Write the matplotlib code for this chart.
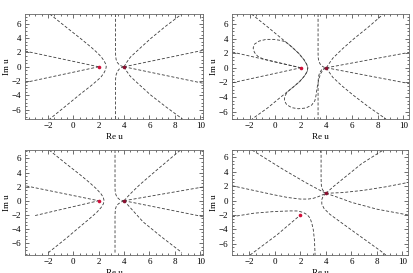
import matplotlib.pyplot as plt
from matplotlib.ticker import MultipleLocator

plt.rcParams['font.family'] = ['Liberation Serif', 'DejaVu Serif']

# curves, as (Re u, Im u) points
p1_curves = [
    [(-1.85, 7.38), (-0.6, 5.6), (0.57, 3.96), (1.4, 2.75), (1.9, 1.95), (2.2, 1.4), (2.42, 0.85),
     (2.55, 0.4), (2.6, 0.0), (2.55, -0.4), (2.42, -0.85), (2.2, -1.4), (1.9, -1.9), (1.4, -2.65),
     (0.57, -3.8), (-0.6, -5.5), (-1.85, -7.3)],
    [(-3.8, 2.2), (2, 0)],
    [(-3.8, -2.2), (2, 0)],
    [(3.33, 7.38), (3.33, 2.2), (3.34, 1.5), (3.38, 1.0), (3.47, 0.6), (3.62, 0.3), (3.8, 0.1), (4, 0)],
    [(4, 0), (3.8, -0.12), (3.62, -0.32), (3.48, -0.65), (3.38, -1.1), (3.34, -1.6), (3.33, -2.3), (3.33, -7.3)],
    [(4, 0), (4.2, 0.6), (4.5, 1.35), (5.2, 2.5), (6.1, 3.95), (7.3, 5.7), (8.55, 7.38)],
    [(4, 0), (10.22, 2.3)],
    [(4, 0), (10.22, -2.3)],
    [(4, 0), (4.2, -0.6), (4.5, -1.35), (5.2, -2.5), (6.1, -3.95), (7.3, -5.6), (8.6, -7.3)],
]
p1_red = [(2, 0)]
p1_dark = [(4, 0)]

p2_curves = [
    [(-1.85, 7.35), (-0.6, 5.6), (0.5, 4.0), (1.3, 2.85), (1.85, 1.95), (2.25, 1.1), (2.47, 0.45),
     (2.55, 0.0), (2.5, -0.5), (2.3, -1.1), (1.9, -1.9), (1.4, -2.65), (0.9, -3.35), (0.3, -4.2),
     (-0.6, -5.5), (-1.8, -7.0)],
    # upper loop
    [(2, 0), (1, 0.4), (0, 0.8), (-0.9, 1.18), (-1.35, 1.55), (-1.62, 2.1), (-1.72, 2.7), (-1.6, 3.25),
     (-1.25, 3.65), (-0.7, 3.88), (-0.1, 3.88), (0.4, 3.75), (0.8, 3.56), (1.3, 2.85), (1.85, 1.95),
     (2.25, 1.1), (2.47, 0.45), (2.55, 0.0)],
    # lower loop
    [(2.55, 0.0), (2.5, -0.5), (2.3, -1.1), (1.9, -1.9), (1.4, -2.65), (0.95, -3.3), (0.75, -3.9),
     (0.72, -4.5), (0.9, -5.05), (1.3, -5.45), (1.8, -5.6), (2.4, -5.5), (2.85, -5.1), (3.1, -4.5),
     (3.2, -3.7), (3.28, -2.7), (3.4, -1.6), (3.55, -0.8), (3.75, -0.25), (4, 0)],
    [(-3.35, 2.15), (2, 0)],
    [(-3.35, -2.05), (2, 0)],
    [(3.35, 7.35), (3.35, 2.0), (3.36, 1.4), (3.4, 0.95), (3.5, 0.55), (3.65, 0.25), (3.8, 0.08), (4, 0)],
    [(4, 0), (3.8, -0.1), (3.62, -0.3), (3.48, -0.65), (3.4, -1.1), (3.36, -1.7), (3.35, -2.5), (3.35, -7.0)],
    [(4, 0), (4.2, 0.55), (4.5, 1.3), (5.2, 2.5), (6.1, 3.9), (7.3, 5.6), (8.45, 7.35)],
    [(4, 0), (10.45, 2.1)],
    [(4, 0), (10.45, -2.15)],
    [(4, 0), (4.2, -0.55), (4.5, -1.3), (5.2, -2.45), (6.1, -3.75), (7.3, -5.35), (8.65, -7.0)],
]
p2_red = [(2, 0)]
p2_dark = [(4, 0)]

p3_curves = [
    [(-1.9, 7.2), (-0.6, 5.3), (0.5, 3.75), (1.3, 2.55), (1.85, 1.65), (2.2, 0.95), (2.37, 0.45),
     (2.43, 0.0), (2.37, -0.45), (2.2, -0.95), (1.85, -1.65), (1.25, -2.6), (0.45, -3.8),
     (-0.6, -5.4), (-1.95, -7.35)],
    [(-3.7, 2.1), (2, 0)],
    [(-3.0, -2.1), (2, 0)],
    [(3.29, 7.2), (3.29, 2.0), (3.3, 1.4), (3.35, 0.9), (3.45, 0.5), (3.62, 0.22), (3.8, 0.07), (4, 0)],
    [(4, 0), (3.75, -0.2), (3.55, -0.45), (3.4, -0.75), (3.32, -1.2), (3.29, -2.0), (3.29, -7.35)],
    [(4, 0), (4.45, 0.9), (5.25, 2.3), (6.8, 4.7), (8.45, 7.2)],
    [(4, 0), (10.22, 1.95)],
    [(4, 0), (10.22, -2.25)],
    [(4, 0), (4.4, -0.8), (5.5, -3.0), (7.0, -5.2), (8.55, -7.35)],
]
p3_red = [(2, 0)]
p3_dark = [(4, 0)]

p4_curves = [
    [(-1.8, 7.0), (0.7, 4.25), (2.5, 2.4), (3.5, 1.45), (4, 1)],
    [(-3.37, 2.05), (-1.8, 1.45), (-0.1, 0.8), (1.0, 0.42), (2.0, 0.2), (2.6, 0.2), (3.0, 0.3),
     (3.35, 0.5), (3.6, 0.68), (4, 1)],
    [(3.62, 7.0), (3.62, 3.0), (3.64, 2.1), (3.72, 1.55), (3.85, 1.2), (4, 1)],
    [(4, 1), (3.78, 0.6), (3.67, 0.1), (3.68, -0.5), (3.85, -1.1), (4.3, -1.9), (5.0, -2.8),
     (5.9, -3.95), (7.0, -5.35), (8.3, -7.0), (8.7, -7.55)],
    [(4, 1), (4.6, 1.95), (5.4, 3.1), (6.8, 5.1), (8.5, 7.0)],
    [(4, 1), (5.3, 1.1), (6.9, 1.4), (8.7, 1.9), (10.44, 2.5)],
    [(4, 1), (5, 0.4), (6, -0.25), (8, -1.2), (10.44, -2.0)],
    [(-3.37, -2.25), (-1.66, -1.76), (-0.1, -1.53), (1.2, -1.44), (1.8, -1.45), (2.24, -1.67),
     (2.55, -2.0), (2.76, -2.45), (2.9, -3.2), (3.01, -4.07), (3.1, -5.5), (3.15, -7.55)],
    [(-1.95, -7.55), (0.16, -4.76), (1.2, -3.2), (2, -2)],
]
p4_red = [(2, -2)]
p4_dark = [(4, 1)]

W, H = 414, 273
fig = plt.figure(figsize=(W / 100, H / 100), dpi=100)


def panel(box, curves, red, dark, xlim, ylim):
    l, r, t, b = box
    ax = fig.add_axes([l / W, 1 - b / H, (r - l) / W, (b - t) / H])
    for c in curves:
        xs = [p[0] for p in c]
        ys = [p[1] for p in c]
        ax.plot(xs, ys, color='#3c3c3c', lw=0.6, dashes=(3.6, 2.2))
    ax.plot([p[0] for p in red], [p[1] for p in red], 'o', color='#d0103a', ms=2.6, mew=0)
    ax.plot([p[0] for p in dark], [p[1] for p in dark], 'o', color='#8a1030', ms=2.6, mew=0)
    ax.set_xlim(*xlim)
    ax.set_ylim(*ylim)
    ax.xaxis.set_major_locator(MultipleLocator(2))
    ax.xaxis.set_minor_locator(MultipleLocator(0.5))
    ax.yaxis.set_major_locator(MultipleLocator(2))
    ax.yaxis.set_minor_locator(MultipleLocator(0.5))
    ax.tick_params(which='both', direction='in', top=True, right=True, labelsize=6.5,
                   width=0.5, color='#333333', pad=2.5)
    ax.tick_params(which='major', length=3)
    ax.tick_params(which='minor', length=1.5)
    for s in ax.spines.values():
        s.set_linewidth(0.6)
        s.set_color('#666666')
    ax.set_xlabel('Re u', fontsize=6.5, labelpad=2)
    ax.set_ylabel('Im u', fontsize=6.5, labelpad=1)
    return ax


panel((25, 203, 14, 119), p1_curves, p1_red, p1_dark, (-3.8, 10.22), (-7.3, 7.38))
panel((232, 409, 14, 119), p2_curves, p2_red, p2_dark, (-3.37, 10.45), (-7.0, 7.35))
panel((25, 203, 150, 255), p3_curves, p3_red, p3_dark, (-3.8, 10.22), (-7.7, 7.2))
panel((232, 408, 150, 255), p4_curves, p4_red, p4_dark, (-3.37, 10.44), (-7.55, 7.0))

fig.savefig('out.png', dpi=100)
